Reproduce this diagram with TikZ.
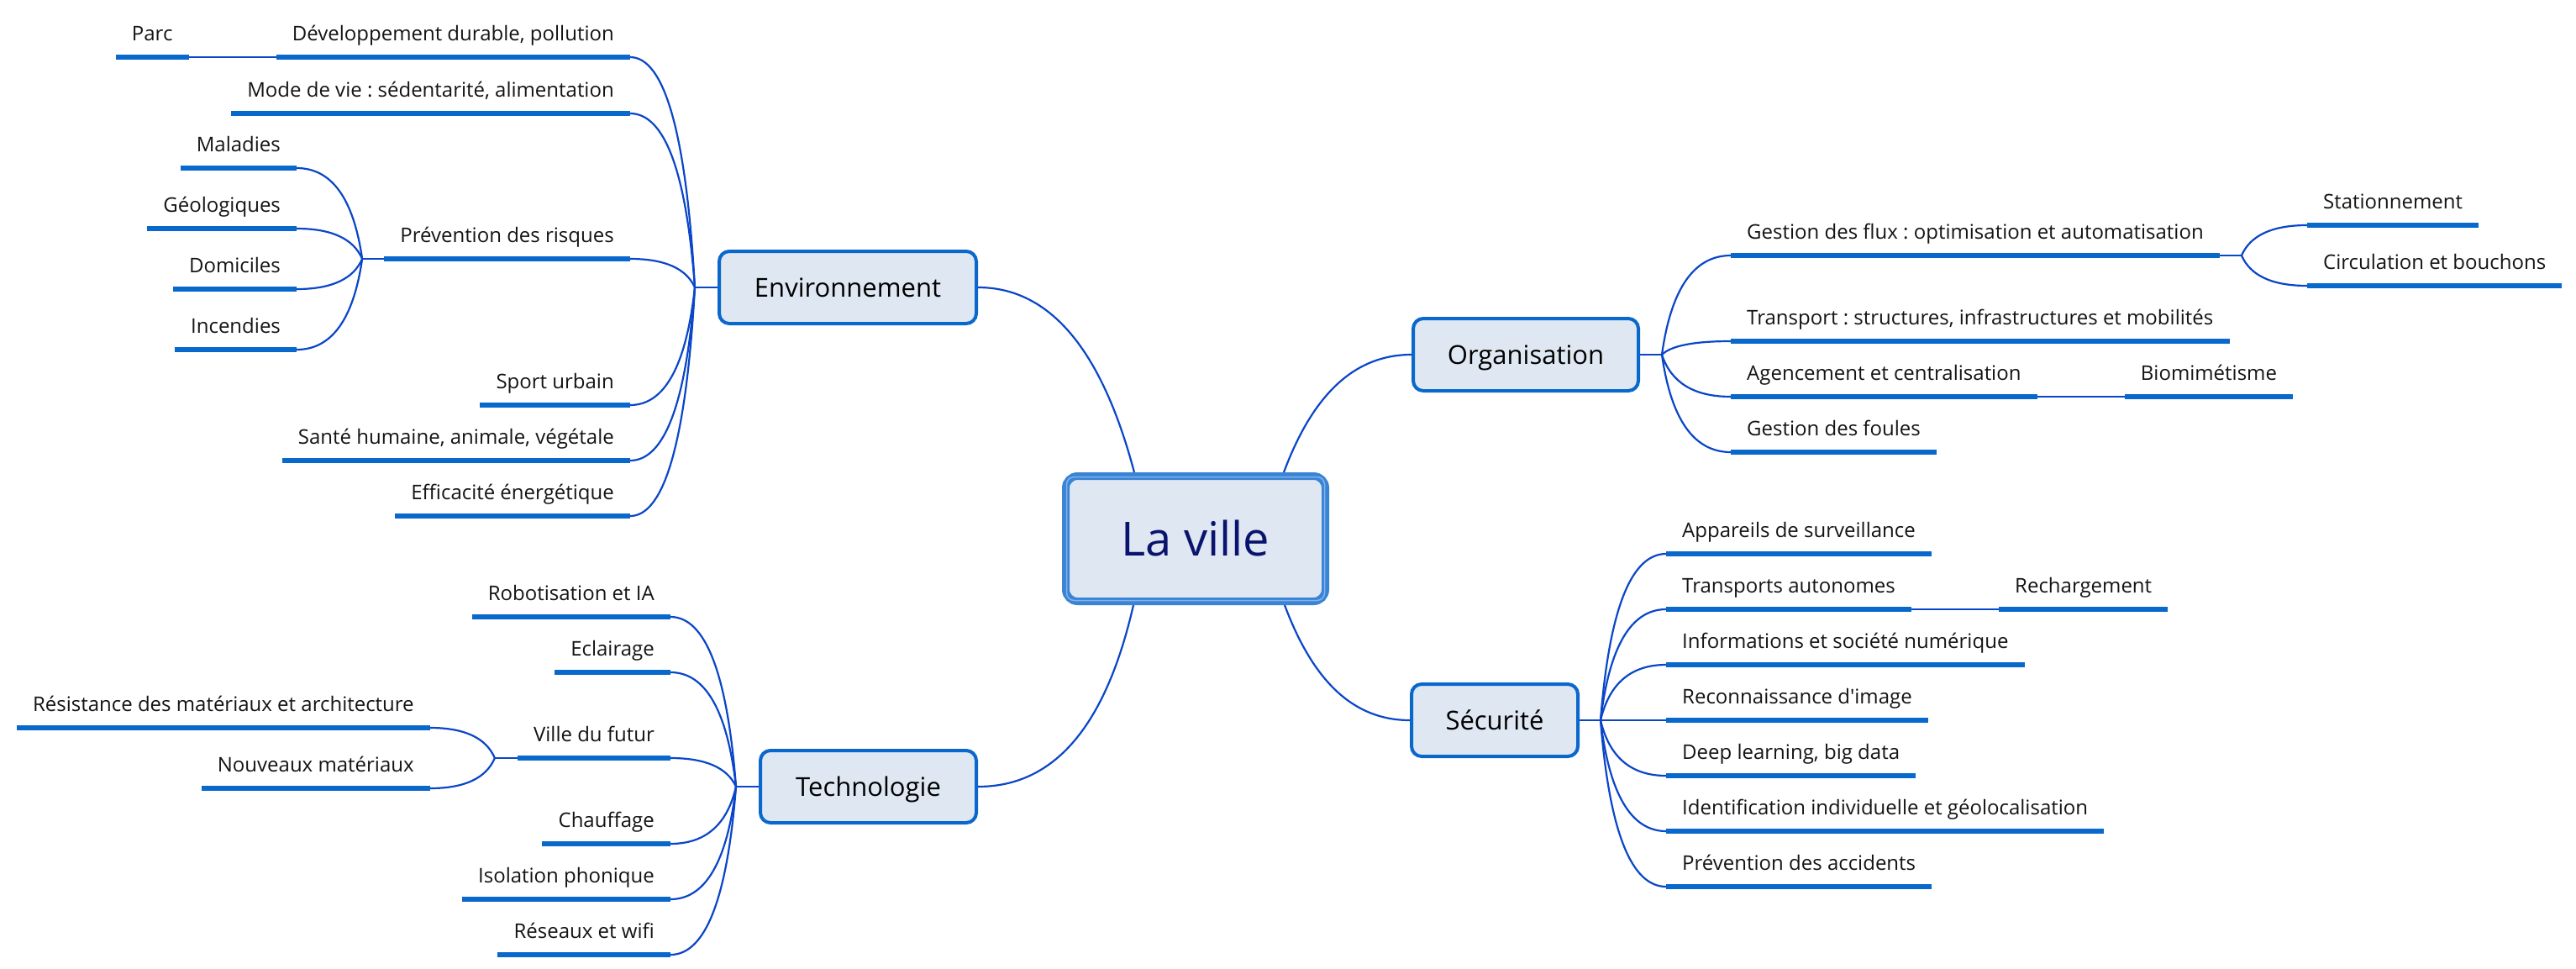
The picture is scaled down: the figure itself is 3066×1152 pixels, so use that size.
\documentclass[tikz,border=0pt]{standalone}
\usepackage{fontspec}
\setmainfont{Open Sans}
\usetikzlibrary{calc,backgrounds}
\frenchspacing

\definecolor{barblue}{RGB}{8,104,204}
\definecolor{twigblue}{RGB}{10,70,200}
\definecolor{boxfill}{RGB}{222,231,242}
\definecolor{boxline}{RGB}{10,104,204}
\definecolor{rootline}{RGB}{58,132,214}
\definecolor{rootglow}{RGB}{130,178,232}
\definecolor{rootink}{RGB}{10,20,110}
\definecolor{leafink}{RGB}{20,20,20}

\tikzset{
  bar/.style={draw=barblue, line width=5.5pt},
  twig/.style={draw=twigblue, line width=2.2pt},
  % curved link: leaves the junction steeply, arrives horizontally
  curve/.style={twig, to path={let \p1=(\tikztostart), \p2=(\tikztotarget) in
      .. controls ({\x1+0.1333*(\x2-\x1)},{\y1+0.6667*(\y2-\y1)})
      and ({\x2+0.5333*(\x1-\x2)},\y2) .. (\tikztotarget)}},
  leaf/.style={inner xsep=19pt, inner ysep=0pt, text height=20pt, text depth=19pt,
      font=\fontsize{24}{28}\selectfont, text=leafink,
      append after command={\pgfextra{\draw[bar] (\tikzlastnode.south west) -- (\tikzlastnode.south east);}}},
  lleaf/.style={leaf, anchor=south east},
  rleaf/.style={leaf, anchor=south west},
  branch/.style={draw=boxline, line width=4pt, fill=boxfill, rounded corners=12pt,
      minimum height=86pt, inner sep=0pt, text height=22pt, text depth=0pt,
      font=\fontsize{31}{36}\selectfont, text=black},
  root/.style={draw=rootline, line width=9pt, fill=boxfill, rounded corners=14pt,
      minimum width=309pt, minimum height=149pt, inner sep=0pt, text height=41pt,
      text depth=0pt, font=\fontsize{56}{64}\selectfont, text=rootink},
}

\begin{document}
\begin{tikzpicture}[x=1pt,y=-1pt]
\useasboundingbox (0,0) rectangle (3066,1152);

% centre and main branches
\node[root] (city) at (1423,641) {La ville};
\draw[rootglow, line width=1.5pt, rounded corners=9pt]
  ([shift={(5.5,5.5)}]city.north west) rectangle ([shift={(-5.5,-5.5)}]city.south east);
\node[branch, minimum width=306pt] (env)  at (1009,342)    {Environnement};
\node[branch, minimum width=268pt] (org)  at (1816,422)    {Organisation};
\node[branch, minimum width=198pt] (sec)  at (1779,857)    {Sécurité};
\node[branch, minimum width=257pt] (tech) at (1033.5,936)  {Technologie};

\coordinate (envj)  at ([xshift=-27pt]env.west);
\coordinate (orgj)  at ([xshift=26pt]org.east);
\coordinate (secj)  at ([xshift=25pt]sec.east);
\coordinate (techj) at ([xshift=-27pt]tech.west);

% Environnement
\node[lleaf] (devd) at (750,68)  {Développement durable, pollution};
\node[lleaf] (parc) at ([xshift=-104pt]devd.south west) {Parc};
\node[lleaf] (mode) at (750,135) {Mode de vie : sédentarité, alimentation};
\node[lleaf] (prev) at (750,308) {Prévention des risques};
\coordinate (prevj) at ([xshift=-26pt]prev.south west);
\node[lleaf] (mal)  at ([shift={(-104,-108)}]prev.south west) {Maladies};
\node[lleaf] (geo)  at ([shift={(-104,-36)}]prev.south west)  {Géologiques};
\node[lleaf] (dom)  at ([shift={(-104,36)}]prev.south west)   {Domiciles};
\node[lleaf] (inc)  at ([shift={(-104,108)}]prev.south west)  {Incendies};
\node[lleaf] (spor) at (750,482) {Sport urbain};
\node[lleaf] (sant) at (750,548) {Santé humaine, animale, végétale};
\node[lleaf] (effi) at (750,614) {Efficacité énergétique};

% Organisation
\node[rleaf] (flux) at (2060,304) {Gestion des flux : optimisation et automatisation};
\coordinate (fluxj) at ([xshift=26pt]flux.south east);
\node[rleaf] (stat) at ([shift={(104,-36)}]flux.south east) {Stationnement};
\node[rleaf] (circ) at ([shift={(104,36)}]flux.south east)  {Circulation et bouchons};
\node[rleaf] (trsp) at (2060,406) {Transport : structures, infrastructures et mobilités};
\node[rleaf] (agen) at (2060,472) {Agencement et centralisation};
\node[rleaf] (bio)  at ([xshift=104pt]agen.south east) {Biomimétisme};
\node[rleaf] (foul) at (2060,538) {Gestion des foules};

% Sécurité
\node[rleaf] (appa) at (1983,659)  {Appareils de surveillance};
\node[rleaf] (taut) at (1983,725)  {Transports autonomes};
\node[rleaf] (rech) at ([xshift=104pt]taut.south east) {Rechargement};
\node[rleaf] (info) at (1983,791)  {Informations et société numérique};
\node[rleaf] (reco) at (1983,857)  {Reconnaissance d\textquotesingle image};
\node[rleaf] (deep) at (1983,923)  {Deep learning, big data};
\node[rleaf] (iden) at (1983,989)  {Identification individuelle et géolocalisation};
\node[rleaf] (pacc) at (1983,1055) {Prévention des accidents};

% Technologie
\node[lleaf] (robo) at (798,734)  {Robotisation et IA};
\node[lleaf] (ecla) at (798,800)  {Eclairage};
\node[lleaf] (vfut) at (798,902)  {Ville du futur};
\coordinate (vfutj) at ([xshift=-27pt]vfut.south west);
\node[lleaf] (resi) at ([shift={(-104,-36)}]vfut.south west) {Résistance des matériaux et architecture};
\node[lleaf] (nouv) at ([shift={(-104,36)}]vfut.south west)  {Nouveaux matériaux};
\node[lleaf] (chau) at (798,1004) {Chauffage};
\node[lleaf] (isol) at (798,1070) {Isolation phonique};
\node[lleaf] (rese) at (798,1136) {Réseaux et wifi};

\begin{pgfonlayer}{background}
  \fill[white] (0,0) rectangle (3066,1152);
  % centre to branches
  \draw[twig] (env.east)  .. controls +(85,0)  and +(-39,-147) .. ([xshift=-73pt]city.north);
  \draw[twig] (org.west)  .. controls +(-67,0) and +(35,-94)   .. ([xshift=105pt]city.north);
  \draw[twig] (tech.east) .. controls +(91,0)  and +(-33,144)  .. ([xshift=-74pt]city.south);
  \draw[twig] (sec.west)  .. controls +(-67,0) and +(34,91)    .. ([xshift=106pt]city.south);

  % Environnement links
  \draw[twig] (env.west) -- (envj);
  \foreach \k in {devd,mode,prev,spor,sant,effi}
    \draw[curve] (envj) to (\k.south east);
  \draw[twig] (devd.south west) -- (parc.south east);
  \draw[twig] (prev.south west) -- (prevj);
  \foreach \k in {mal,geo,dom,inc}
    \draw[curve] (prevj) to (\k.south east);

  % Organisation links
  \draw[twig] (org.east) -- (orgj);
  \foreach \k in {flux,trsp,agen,foul}
    \draw[curve] (orgj) to (\k.south west);
  \draw[twig] (flux.south east) -- (fluxj);
  \foreach \k in {stat,circ}
    \draw[curve] (fluxj) to (\k.south west);
  \draw[twig] (agen.south east) -- (bio.south west);

  % Sécurité links
  \draw[twig] (sec.east) -- (secj);
  \foreach \k in {appa,taut,info,reco,deep,iden,pacc}
    \draw[curve] (secj) to (\k.south west);
  \draw[twig] (taut.south east) -- (rech.south west);

  % Technologie links
  \draw[twig] (tech.west) -- (techj);
  \foreach \k in {robo,ecla,vfut,chau,isol,rese}
    \draw[curve] (techj) to (\k.south east);
  \draw[twig] (vfut.south west) -- (vfutj);
  \foreach \k in {resi,nouv}
    \draw[curve] (vfutj) to (\k.south east);
\end{pgfonlayer}
\end{tikzpicture}
\end{document}
